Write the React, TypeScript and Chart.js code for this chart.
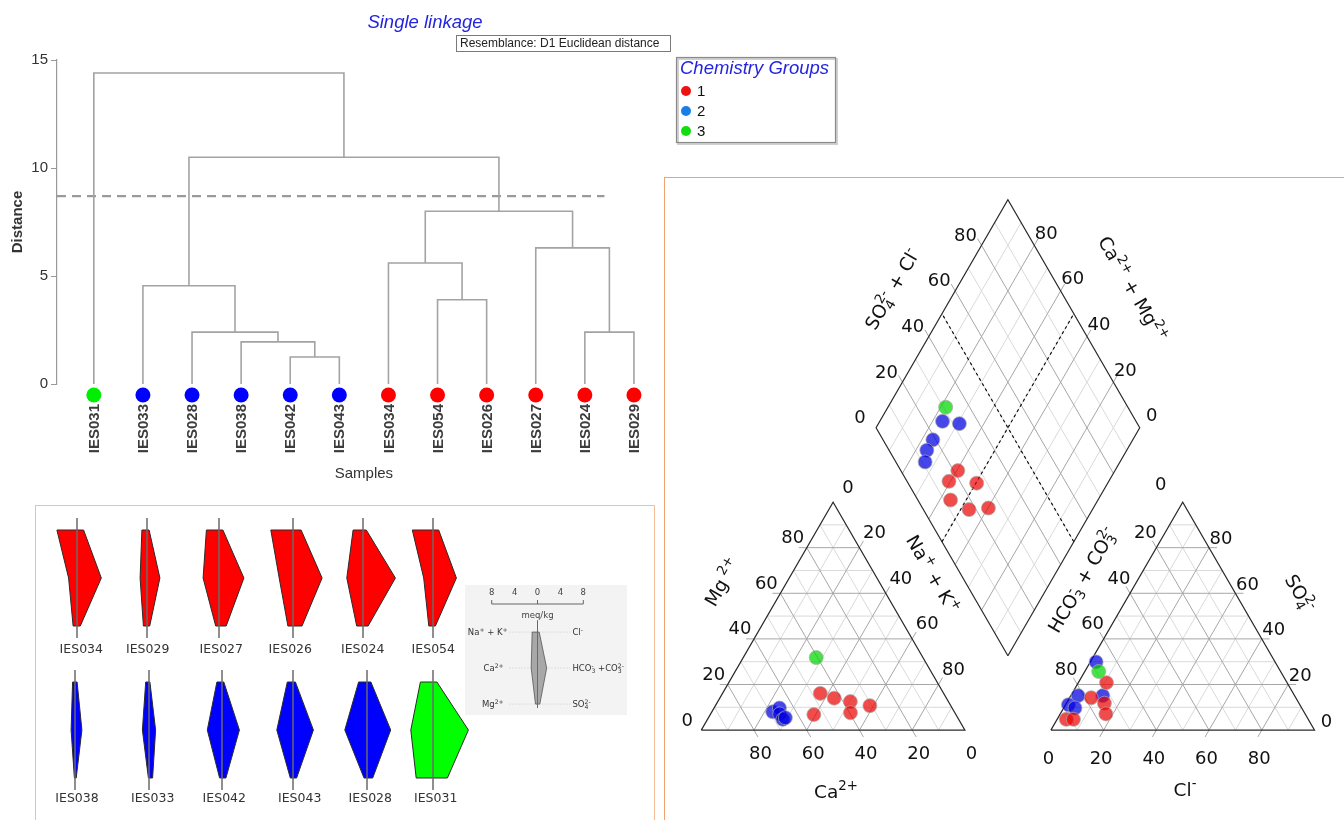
import React, { useEffect, useRef } from 'react';
import { Chart, registerables } from 'chart.js';

Chart.register(...registerables);

/* ---------------- Cluster analysis (single linkage) ---------------- */
const sampleOrder = ['IES031', 'IES033', 'IES028', 'IES038', 'IES042', 'IES043', 'IES034', 'IES054', 'IES026', 'IES027', 'IES024', 'IES029'];
const sampleGroup = [3, 2, 2, 2, 2, 2, 1, 1, 1, 1, 1, 1];
// merge k joins mergeLeft[k] and mergeRight[k] (leaves 0..11) into node 12 + k
const mergeLeft = [4, 3, 2, 1, 10, 9, 7, 6, 19, 15, 0];
const mergeRight = [5, 12, 13, 14, 11, 16, 8, 18, 17, 20, 21];
const mergeDistance = [1.25, 1.95, 2.4, 4.55, 2.4, 6.3, 3.9, 5.6, 8.0, 10.5, 14.4];
const cutDistance = 8.7;
const groupLabels = ['1', '2', '3'];

/* ---------------- Stiff diagrams (meq/kg) ---------------- */
const stiffSamples = ['IES034', 'IES029', 'IES027', 'IES026', 'IES024', 'IES054', 'IES038', 'IES033', 'IES042', 'IES043', 'IES028', 'IES031'];
const stiffGroup = [1, 1, 1, 1, 1, 1, 2, 2, 2, 2, 2, 3];
const stiffNaK = [6.7, 1.7, 4.2, 7.4, 3.3, 6.9, 0.8, 1.1, 1.7, 1.9, 2.8, 4.2];
const stiffCa = [2.8, 2.3, 5.3, 4.6, 5.4, 3.1, 1.3, 2.2, 4.9, 5.4, 7.4, 7.4];
const stiffMg = [1.3, 1.2, 1.1, 1.7, 2.1, 1.4, 0.2, 0.2, 0.8, 0.9, 1.0, 5.6];
const stiffCl = [2.2, 0.7, 1.3, 2.7, 1.1, 1.9, 0.7, 0.3, 0.6, 0.8, 1.3, 1.3];
const stiffHCO3 = [8.1, 4.3, 8.3, 9.7, 10.8, 7.8, 2.3, 2.2, 5.8, 6.8, 7.9, 11.8];
const stiffSO4 = [1.1, 0.9, 2.4, 3.0, 1.7, 0.8, 0.4, 1.2, 1.3, 1.2, 1.9, 4.8];
// key diagram
const keyCations = [0.93, 1.1, 0.35]; // Na+K, Ca, Mg
const keyAnions = [0.3, 1.6, 0.4]; // Cl, HCO3+CO3, SO4
const keyScale = [-8, -4, 0, 4, 8];

/* ---------------- Piper diagram (% meq) ---------------- */
const cationGroup = [3, 1, 1, 1, 1, 1, 1, 2, 2, 2, 2, 2];
const cationCa = [40.5, 46.8, 42.6, 37.2, 30.7, 53.9, 39.6, 68.9, 65.5, 66.7, 66.7, 65.4];
const cationMg = [31.8, 16.1, 14.0, 12.5, 10.7, 6.8, 7.6, 8.0, 9.7, 7.1, 4.7, 5.4];
const anionGroup = [2, 3, 1, 2, 1, 2, 1, 2, 2, 1, 1, 1];
const anionCl = [2.2, 5.3, 10.7, 2.8, 8.2, 12.1, 14.4, 1.1, 4.3, 17.3, 3.5, 6.2];
const anionSO4 = [29.9, 25.7, 20.8, 15.1, 14.2, 15.1, 11.8, 11.1, 9.7, 7.1, 4.7, 4.7];
const diamondGroup = [3, 2, 2, 2, 2, 2, 1, 1, 1, 1, 1, 1];
const diamondCaMg = [78.1, 76.2, 69.3, 75.8, 75.8, 73.9, 59.6, 60.6, 49.7, 55.9, 46.8, 39.8];
const diamondSO4Cl = [30.9, 26.6, 32.5, 18.9, 14.3, 11.1, 21.6, 15.9, 26.0, 12.4, 17.3, 25.0];
const piperTicks = [0, 20, 40, 60, 80];

/* ---------------- Styling & layout ---------------- */
const FONT_ARIAL = '"Liberation Sans", Arial, sans-serif';
const FONT_DEJAVU = '"DejaVu Sans", sans-serif';
const leafColors = ['#ff0000', '#0000ff', '#00ee00'];
const legendColors = ['#ee1111', '#1a7ee8', '#11dd11'];
const stiffFill = ['#ff0000', '#0000ff', '#00ff00'];
const piperFill = ['rgba(235,0,0,0.7)', 'rgba(0,0,225,0.72)', 'rgba(0,215,0,0.72)'];

const stiffCenterX = [76.7, 147.3, 218.7, 292.7, 363.3, 432.7, 75, 149.3, 221.7, 293.3, 366.7, 433.3];
const stiffLabelX = [81, 148, 221, 290, 363, 433, 77, 153, 224, 300, 370, 436];
const stiffRowTop = [529.5, 682];
const stiffLabelY = [649, 799];
const STIFF_PX_PER_MEQ = 3;

const PIPER_LEFT = 663;
const PIPER_TOP = 177;
const PIPER_W = 681;
const PIPER_H = 643;
const PIPER_PX = 2.7; // pixels per percent
const PIPER_ORIGIN = { x: 694, y: 736 };

type Run = { t: string; k?: 'sup' | 'sub'; stack?: boolean };

function drawRich(
  ctx: CanvasRenderingContext2D,
  runs: Run[],
  x: number,
  y: number,
  size: number,
  angle = 0,
  align: 'left' | 'center' | 'right' = 'center',
  color = '#111',
  family = FONT_DEJAVU,
) {
  const small = size * 0.72;
  const placed: { r: Run; x: number; s: number }[] = [];
  let cursor = 0;
  let lastStart = 0;
  for (const r of runs) {
    const s = r.k ? small : size;
    ctx.font = `${s}px ${family}`;
    const w = ctx.measureText(r.t).width;
    const start = r.stack ? lastStart : cursor;
    placed.push({ r, x: start, s });
    cursor = Math.max(cursor, start + w);
    lastStart = start;
  }
  const off = align === 'center' ? -cursor / 2 : align === 'right' ? -cursor : 0;
  ctx.save();
  ctx.translate(x, y);
  ctx.rotate((angle * Math.PI) / 180);
  ctx.fillStyle = color;
  ctx.textAlign = 'left';
  ctx.textBaseline = 'alphabetic';
  for (const p of placed) {
    ctx.font = `${p.s}px ${family}`;
    const dy = p.r.k === 'sup' ? -size * 0.42 : p.r.k === 'sub' ? size * 0.22 : 0;
    ctx.fillText(p.r.t, off + p.x, dy + size * 0.36);
  }
  ctx.restore();
}

const GAP_PT = { x: NaN, y: NaN };

/* ---------------- Dendrogram ---------------- */
function buildLinks() {
  const nodeX = sampleOrder.map((_, i) => i);
  const nodeH = sampleOrder.map(() => 0);
  const pts: { x: number; y: number }[] = [];
  mergeDistance.forEach((h, k) => {
    const a = mergeLeft[k];
    const b = mergeRight[k];
    pts.push({ x: nodeX[a], y: nodeH[a] }, { x: nodeX[a], y: h }, { x: nodeX[b], y: h }, { x: nodeX[b], y: nodeH[b] }, GAP_PT);
    nodeX.push((nodeX[a] + nodeX[b]) / 2);
    nodeH.push(h);
  });
  return pts;
}

const dendroDecor = {
  id: 'dendroDecor',
  afterDraw(chart: any) {
    const { ctx } = chart;
    const x = chart.scales.x;
    const y = chart.scales.y;
    const base = y.getPixelForValue(0);
    ctx.save();
    sampleOrder.forEach((name: string, i: number) => {
      const px = x.getPixelForValue(i);
      ctx.beginPath();
      ctx.arc(px, base + 11, 7.5, 0, Math.PI * 2);
      ctx.fillStyle = leafColors[sampleGroup[i] - 1];
      ctx.fill();
      ctx.save();
      ctx.translate(px, base + 20);
      ctx.rotate(-Math.PI / 2);
      ctx.font = `bold 15px ${FONT_ARIAL}`;
      ctx.fillStyle = '#3c3c3c';
      ctx.textAlign = 'right';
      ctx.textBaseline = 'middle';
      ctx.fillText(name, 0, 1);
      ctx.restore();
    });
    ctx.font = `15px ${FONT_ARIAL}`;
    ctx.fillStyle = '#333';
    ctx.textAlign = 'center';
    ctx.textBaseline = 'middle';
    ctx.fillText('Samples', x.getPixelForValue((sampleOrder.length - 1) / 2), 474);

    // title
    ctx.font = `italic 18.5px ${FONT_ARIAL}`;
    ctx.fillStyle = '#2424e0';
    ctx.fillText('Single linkage', 425, 23);

    // resemblance box
    ctx.strokeStyle = '#7a7a7a';
    ctx.lineWidth = 1;
    ctx.strokeRect(456.5, 35.5, 214, 16);
    ctx.font = `12px ${FONT_ARIAL}`;
    ctx.fillStyle = '#222';
    ctx.textAlign = 'left';
    ctx.fillText('Resemblance: D1 Euclidean distance', 460, 44);

    // legend
    ctx.fillStyle = '#fff';
    ctx.fillRect(676, 57, 160, 86);
    ctx.strokeStyle = '#d0d0d0';
    ctx.lineWidth = 2;
    ctx.strokeRect(678, 59, 159, 85);
    ctx.strokeStyle = '#8a8a8a';
    ctx.lineWidth = 1.2;
    ctx.strokeRect(676.5, 57.5, 159, 85);
    ctx.font = `italic 18.5px ${FONT_ARIAL}`;
    ctx.fillStyle = '#2424e0';
    ctx.fillText('Chemistry Groups', 680, 69);
    groupLabels.forEach((g, i) => {
      const ly = 91 + i * 20;
      ctx.beginPath();
      ctx.arc(686, ly, 5, 0, Math.PI * 2);
      ctx.fillStyle = legendColors[i];
      ctx.fill();
      ctx.font = `15px ${FONT_ARIAL}`;
      ctx.fillStyle = '#111';
      ctx.fillText(g, 697, ly + 1);
    });
    ctx.restore();
  },
};

function makeDendrogram() {
  return {
    type: 'scatter',
    data: {
      datasets: [
        { data: buildLinks(), showLine: true, borderColor: '#a3a3a3', borderWidth: 1.6, pointRadius: 0, spanGaps: false },
        {
          data: [{ x: -0.75, y: cutDistance }, { x: 10.4, y: cutDistance }],
          showLine: true,
          borderColor: '#9a9a9a',
          borderWidth: 2.2,
          borderDash: [9, 6],
          pointRadius: 0,
        },
      ],
    },
    options: {
      animation: false,
      responsive: false,
      devicePixelRatio: 1,
      events: [],
      layout: { padding: { left: 7, top: 60, right: 191.5, bottom: 116 } },
      scales: {
        x: { type: 'linear', min: -0.75, max: 11.5, display: false },
        y: {
          type: 'linear',
          min: 0,
          max: 15,
          afterFit(scale: any) {
            scale.width = 50;
          },
          ticks: { stepSize: 5, font: { family: FONT_ARIAL, size: 15 }, color: '#333', padding: 3 },
          grid: { drawOnChartArea: false, drawTicks: true, tickLength: 6, color: '#999', lineWidth: 1 },
          border: { display: true, color: '#999', width: 1.2 },
          title: {
            display: true,
            text: 'Distance',
            font: { family: FONT_ARIAL, size: 15, weight: 'bold' },
            color: '#333',
            padding: { top: 2, bottom: 0 },
          },
        },
      },
      plugins: { legend: { display: false }, tooltip: { enabled: false } },
    },
    plugins: [dendroDecor],
  };
}

/* ---------------- Stiff diagrams ---------------- */
function stiffPolygon(i: number) {
  return [
    { x: -stiffNaK[i], y: 2 },
    { x: -stiffCa[i], y: 1 },
    { x: -stiffMg[i], y: 0 },
    { x: stiffSO4[i], y: 0 },
    { x: stiffHCO3[i], y: 1 },
    { x: stiffCl[i], y: 2 },
    { x: -stiffNaK[i], y: 2 },
  ];
}

const STIFF_W = 96;
const STIFF_H = 168;

function makeStiff(i: number, left: number, top: number, labelX: number, labelY: number) {
  const half = STIFF_W / 2 / STIFF_PX_PER_MEQ;
  return {
    type: 'scatter',
    data: {
      datasets: [
        {
          data: [{ x: 0, y: -0.25 }, { x: 0, y: 2.25 }],
          showLine: true,
          borderColor: '#6a6a6a',
          borderWidth: 1.5,
          pointRadius: 0,
          order: 0,
        },
        {
          data: stiffPolygon(i),
          showLine: true,
          fill: 'shape',
          backgroundColor: stiffFill[stiffGroup[i] - 1],
          borderColor: '#2a2a2a',
          borderWidth: 1,
          pointRadius: 0,
          order: 1,
        },
      ],
    },
    options: {
      animation: false,
      responsive: false,
      devicePixelRatio: 1,
      events: [],
      layout: { padding: 0 },
      scales: {
        x: { type: 'linear', min: -half, max: half, display: false },
        y: { type: 'linear', min: -1, max: 2.5, display: false },
      },
      plugins: { legend: { display: false }, tooltip: { enabled: false } },
    },
    plugins: [
      {
        id: 'stiffLabel',
        afterDraw(chart: any) {
          const { ctx } = chart;
          ctx.save();
          ctx.font = `12.5px ${FONT_DEJAVU}`;
          ctx.fillStyle = '#333';
          ctx.textAlign = 'center';
          ctx.textBaseline = 'middle';
          ctx.fillText(stiffSamples[i], labelX - left, labelY - top);
          ctx.restore();
        },
      },
    ],
  };
}

function makeKey() {
  const poly = [
    { x: -keyCations[0], y: 2 },
    { x: -keyCations[1], y: 1 },
    { x: -keyCations[2], y: 0 },
    { x: keyAnions[2], y: 0 },
    { x: keyAnions[1], y: 1 },
    { x: keyAnions[0], y: 2 },
    { x: -keyCations[0], y: 2 },
  ];
  const guides: any[] = [];
  [2, 1, 0].forEach((r) => guides.push({ x: -4.9, y: r }, { x: 5.7, y: r }, GAP_PT));
  const leftLabels: Run[][] = [
    [{ t: 'Na' }, { t: '+', k: 'sup' }, { t: ' + K' }, { t: '+', k: 'sup' }],
    [{ t: 'Ca' }, { t: '2+', k: 'sup' }],
    [{ t: 'Mg' }, { t: '2+', k: 'sup' }],
  ];
  const rightLabels: Run[][] = [
    [{ t: 'Cl' }, { t: '-', k: 'sup' }],
    [{ t: 'HCO' }, { t: '3', k: 'sub' }, { t: '-', k: 'sup', stack: true }, { t: ' +CO' }, { t: '3', k: 'sub' }, { t: '2-', k: 'sup', stack: true }],
    [{ t: 'SO' }, { t: '4', k: 'sub' }, { t: '2-', k: 'sup', stack: true }],
  ];
  return {
    type: 'scatter',
    data: {
      datasets: [
        { data: [{ x: 0, y: -0.11 }, { x: 0, y: 2.33 }], showLine: true, borderColor: '#6a6a6a', borderWidth: 1, pointRadius: 0, order: 0 },
        {
          data: poly,
          showLine: true,
          fill: 'shape',
          backgroundColor: '#a8a8a8',
          borderColor: '#555',
          borderWidth: 0.8,
          pointRadius: 0,
          order: 1,
        },
        { data: guides, showLine: true, borderColor: '#c9c9c9', borderWidth: 1, borderDash: [1, 2], pointRadius: 0, order: 2 },
      ],
    },
    options: {
      animation: false,
      responsive: false,
      devicePixelRatio: 1,
      events: [],
      layout: { padding: { left: 26.7, right: 43.7, top: 19, bottom: 3 } },
      scales: {
        x: { type: 'linear', min: -8, max: 8, display: false },
        y: { type: 'linear', min: -0.22, max: 2.78, display: false },
      },
      plugins: { legend: { display: false }, tooltip: { enabled: false } },
    },
    plugins: [
      {
        id: 'keyDecor',
        beforeDraw(chart: any) {
          const { ctx, width, height } = chart;
          ctx.save();
          ctx.fillStyle = '#f3f3f3';
          ctx.fillRect(0, 0, width, height);
          ctx.restore();
        },
        afterDraw(chart: any) {
          const { ctx, chartArea } = chart;
          const x = chart.scales.x;
          const y = chart.scales.y;
          const top = chartArea.top;
          ctx.save();
          ctx.strokeStyle = '#666';
          ctx.lineWidth = 1;
          ctx.beginPath();
          ctx.moveTo(x.getPixelForValue(-8), top);
          ctx.lineTo(x.getPixelForValue(8), top);
          [-8, 0, 8].forEach((v) => {
            ctx.moveTo(x.getPixelForValue(v), top);
            ctx.lineTo(x.getPixelForValue(v), top - 4);
          });
          ctx.stroke();
          ctx.font = `8.5px ${FONT_DEJAVU}`;
          ctx.fillStyle = '#444';
          ctx.textAlign = 'center';
          ctx.textBaseline = 'middle';
          keyScale.forEach((v) => ctx.fillText(String(Math.abs(v)), x.getPixelForValue(v), top - 11));
          ctx.fillText('meq/kg', x.getPixelForValue(0), top + 12);
          leftLabels.forEach((runs, r) => {
            drawRich(ctx, runs, x.getPixelForValue(r === 0 ? -5.2 : -5.9), y.getPixelForValue(2 - r), 8.5, 0, 'right', '#333');
          });
          rightLabels.forEach((runs, r) => {
            drawRich(ctx, runs, x.getPixelForValue(6.1), y.getPixelForValue(2 - r), 8.5, 0, 'left', '#333');
          });
          ctx.restore();
        },
      },
    ],
  };
}

/* ---------------- Piper geometry ---------------- */
const H = Math.sqrt(3) / 2;
const GAP = 32.6;
const ANION_X0 = 100 + GAP;
const DIAMOND_BX = 100 + GAP / 2;
const DIAMOND_BY = GAP * H;

const cationXY = (ca: number, mg: number) => ({ x: 100 - ca - mg + mg / 2, y: mg * H });
const anionXY = (cl: number, so4: number) => ({ x: ANION_X0 + cl + so4 / 2, y: so4 * H });
const diamondXY = (caMg: number, so4Cl: number) => ({ x: DIAMOND_BX + (so4Cl - caMg) / 2, y: DIAMOND_BY + (caMg + so4Cl) * H });

function pushSeg(list: any[], a: any, b: any) {
  list.push(a, b, GAP_PT);
}

function piperLines() {
  const minor: any[] = [];
  const major: any[] = [];
  for (let v = 10; v < 100; v += 10) {
    const L = v % 20 === 0 ? major : minor;
    pushSeg(L, cationXY(100 - v, v), cationXY(0, v));
    pushSeg(L, cationXY(v, 0), cationXY(v, 100 - v));
    pushSeg(L, cationXY(100 - v, 0), cationXY(0, 100 - v));
    pushSeg(L, anionXY(0, v), anionXY(100 - v, v));
    pushSeg(L, anionXY(v, 0), anionXY(v, 100 - v));
    pushSeg(L, anionXY(100 - v, 0), anionXY(0, 100 - v));
    pushSeg(L, diamondXY(v, 0), diamondXY(v, 100));
    pushSeg(L, diamondXY(0, v), diamondXY(100, v));
  }
  const outline: any[] = [];
  outline.push(cationXY(100, 0), cationXY(0, 0), cationXY(0, 100), cationXY(100, 0), GAP_PT);
  outline.push(anionXY(0, 0), anionXY(100, 0), anionXY(0, 100), anionXY(0, 0), GAP_PT);
  outline.push(diamondXY(0, 0), diamondXY(0, 100), diamondXY(100, 100), diamondXY(100, 0), diamondXY(0, 0), GAP_PT);
  // short tick extensions beyond the labelled edges
  const T = 3;
  const ext = (p: any, dx: number, dy: number) => pushSeg(major, p, { x: p.x + dx * T, y: p.y + dy * T });
  for (const v of [20, 40, 60, 80]) {
    ext(cationXY(v, 0), 0.5, -H);
    ext(cationXY(100 - v, v), -1, 0);
    ext(cationXY(0, 100 - v), 0.5, H);
    ext(anionXY(v, 0), -0.5, -H);
    ext(anionXY(0, 100 - v), -0.5, H);
    ext(anionXY(100 - v, v), 1, 0);
    ext(diamondXY(100, v), -0.5, H);
    ext(diamondXY(v, 100), 0.5, H);
  }
  const dashed: any[] = [];
  pushSeg(dashed, diamondXY(50, 0), diamondXY(50, 100));
  pushSeg(dashed, diamondXY(0, 50), diamondXY(100, 50));
  return { minor, major, outline, dashed };
}

function piperPoints(group: number) {
  const pts: any[] = [];
  cationGroup.forEach((g, i) => g === group && pts.push(cationXY(cationCa[i], cationMg[i])));
  anionGroup.forEach((g, i) => g === group && pts.push(anionXY(anionCl[i], anionSO4[i])));
  diamondGroup.forEach((g, i) => g === group && pts.push(diamondXY(diamondCaMg[i], diamondSO4Cl[i])));
  return pts;
}

const piperEdges = [
  { at: (v: number) => cationXY(v, 0), dx: 6.5, dy: 22 },
  { at: (v: number) => cationXY(100 - v, v), dx: -14, dy: -11 },
  { at: (v: number) => cationXY(0, 100 - v), dx: 15, dy: -16 },
  { at: (v: number) => anionXY(v, 0), dx: -2.5, dy: 27 },
  { at: (v: number) => anionXY(0, 100 - v), dx: -11, dy: -16, apex: { dx: -22, dy: -19 } },
  { at: (v: number) => anionXY(100 - v, v), dx: 12, dy: -10 },
  { at: (v: number) => diamondXY(100, v), dx: -16, dy: -11 },
  { at: (v: number) => diamondXY(v, 100), dx: 12, dy: -13 },
];

const piperTitles: { runs: Run[]; x: number; y: number; a: number }[] = [
  { runs: [{ t: 'Ca' }, { t: '2+', k: 'sup' }], x: 836, y: 791, a: 0 },
  { runs: [{ t: 'Mg' }, { t: ' 2+', k: 'sup' }], x: 722, y: 582, a: -60 },
  { runs: [{ t: 'Na' }, { t: '+', k: 'sup' }, { t: ' + K' }, { t: '+', k: 'sup' }], x: 933, y: 574, a: 60 },
  { runs: [{ t: 'Cl' }, { t: '-', k: 'sup' }], x: 1185, y: 789, a: 0 },
  { runs: [{ t: 'SO' }, { t: '4', k: 'sub' }, { t: '2-', k: 'sup', stack: true }], x: 1300, y: 593, a: 60 },
  {
    runs: [{ t: 'HCO' }, { t: '3', k: 'sub' }, { t: '-', k: 'sup', stack: true }, { t: ' + CO' }, { t: '3', k: 'sub' }, { t: '2-', k: 'sup', stack: true }],
    x: 1082,
    y: 580,
    a: -60,
  },
  {
    runs: [{ t: 'SO' }, { t: '4', k: 'sub' }, { t: '2-', k: 'sup', stack: true }, { t: ' + Cl' }, { t: '-', k: 'sup' }],
    x: 892,
    y: 289,
    a: -60,
  },
  { runs: [{ t: 'Ca' }, { t: '2+', k: 'sup' }, { t: ' + Mg' }, { t: '2+', k: 'sup' }], x: 1133, y: 289, a: 60 },
];

const piperDecor = {
  id: 'piperDecor',
  afterDraw(chart: any) {
    const { ctx } = chart;
    const x = chart.scales.x;
    const y = chart.scales.y;
    ctx.save();
    ctx.font = `18px ${FONT_DEJAVU}`;
    ctx.fillStyle = '#111';
    ctx.textAlign = 'center';
    ctx.textBaseline = 'alphabetic';
    piperEdges.forEach((e) => {
      piperTicks.forEach((v) => {
        const p = e.at(v);
        const off = v === 0 && e.apex ? e.apex : e;
        const px = x.getPixelForValue(p.x) + off.dx;
        const py = y.getPixelForValue(p.y) + off.dy;
        ctx.fillText(String(v), px, py + 18 * 0.36);
      });
    });
    piperTitles.forEach((t) => drawRich(ctx, t.runs, t.x - PIPER_LEFT, t.y - PIPER_TOP, 18.5, t.a, 'center', '#111'));
    ctx.restore();
  },
};

function makePiper() {
  const { minor, major, outline, dashed } = piperLines();
  const xMin = (PIPER_LEFT - PIPER_ORIGIN.x) / PIPER_PX;
  const yMax = (PIPER_ORIGIN.y - PIPER_TOP) / PIPER_PX;
  const lineDs = (data: any[], color: string, width: number, order: number, dash: number[] = []) => ({
    data,
    showLine: true,
    borderColor: color,
    borderWidth: width,
    borderDash: dash,
    pointRadius: 0,
    spanGaps: false,
    order,
  });
  const pointDs = (group: number, order: number) => ({
    data: piperPoints(group),
    showLine: false,
    pointRadius: 7,
    pointBackgroundColor: piperFill[group - 1],
    pointBorderColor: 'rgba(170,170,170,0.7)',
    pointBorderWidth: 1,
    order,
  });
  return {
    type: 'scatter',
    data: {
      datasets: [
        pointDs(3, 0),
        pointDs(1, 1),
        pointDs(2, 2),
        lineDs(dashed, '#111', 1.2, 5, [3, 3]),
        lineDs(outline, '#2a2a2a', 1.2, 6),
        lineDs(major, '#a6a6a6', 1, 7),
        lineDs(minor, '#d9d9d9', 1, 8),
      ],
    },
    options: {
      animation: false,
      responsive: false,
      devicePixelRatio: 1,
      events: [],
      clip: false,
      layout: { padding: 0 },
      scales: {
        x: { type: 'linear', min: xMin, max: xMin + PIPER_W / PIPER_PX, display: false },
        y: { type: 'linear', min: yMax - PIPER_H / PIPER_PX, max: yMax, display: false },
      },
      plugins: { legend: { display: false }, tooltip: { enabled: false } },
    },
    plugins: [piperDecor],
  };
}

/* ---------------- React ---------------- */
function ChartCanvas({ left, top, width, height, make }: { left: number; top: number; width: number; height: number; make: () => any }) {
  const ref = useRef<HTMLCanvasElement | null>(null);
  useEffect(() => {
    const chart = new Chart(ref.current as HTMLCanvasElement, make());
    return () => chart.destroy();
  }, []);
  return <canvas ref={ref} width={width} height={height} style={{ position: 'absolute', left, top, width, height }} />;
}

export default function App() {
  return (
    <div style={{ position: 'absolute', left: 0, top: 0, width: 1344, height: 820, background: '#fff', overflow: 'hidden' }}>
      <div style={{ position: 'absolute', left: 35, top: 505, width: 620, height: 330, border: '1.5px solid #f6bd98', boxSizing: 'border-box' }} />
      <div style={{ position: 'absolute', left: 664, top: 177, width: 700, height: 700, border: '1.5px solid #f2a26c', boxSizing: 'border-box' }} />
      <ChartCanvas left={0} top={0} width={850} height={500} make={makeDendrogram} />
      {stiffSamples.map((s, i) => {
        const row = i < 6 ? 0 : 1;
        const left = stiffCenterX[i] - STIFF_W / 2;
        const top = stiffRowTop[row] - 24;
        return (
          <ChartCanvas
            key={s}
            left={left}
            top={top}
            width={STIFF_W}
            height={STIFF_H}
            make={() => makeStiff(i, left, top, stiffLabelX[i], stiffLabelY[row])}
          />
        );
      })}
      <ChartCanvas left={465} top={585} width={162} height={130} make={makeKey} />
      <ChartCanvas left={PIPER_LEFT} top={PIPER_TOP} width={PIPER_W} height={PIPER_H} make={makePiper} />
    </div>
  );
}
